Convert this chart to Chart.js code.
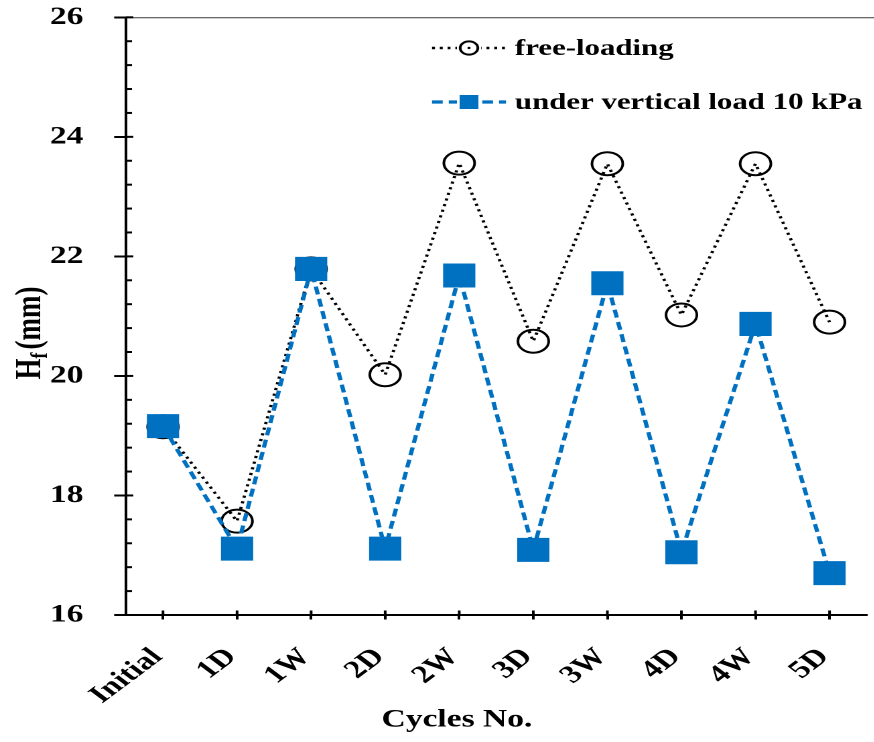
<!DOCTYPE html>
<html>
<head>
<meta charset="utf-8">
<script src="https://cdn.jsdelivr.net/npm/chart.js@4/dist/chart.umd.min.js"></script>
<style>
  html, body { margin: 0; padding: 0; background: #fff; overflow: hidden; width: 874px; height: 742px; }
  #wrap { position: absolute; left: 0; top: 0; transform: scaleX(1.34); transform-origin: 0 0; }
  canvas { display: block; }
</style>
</head>
<body>
<div id="wrap"><canvas id="c" width="664" height="742"></canvas></div>
<script>
// ---- data ----
const categories = ['Initial', '1D', '1W', '2D', '2W', '3D', '3W', '4D', '4W', '5D'];
const freeLoading = [19.15, 17.57, 21.79, 20.02, 23.56, 20.58, 23.55, 21.02, 23.55, 20.90];
const underLoad10kPa = [19.16, 17.11, 21.79, 17.11, 21.68, 17.09, 21.55, 17.05, 20.87, 16.70];
const yTickValues = [16, 18, 20, 22, 24, 26];
const seriesNames = ['free-loading', 'under vertical load 10 kPa'];
const xTitle = 'Cycles No.';
const yTitleMain = 'H';
const yTitleSub = 'f';
const yTitleUnit = '(mm)';

const BLUE = '#0070C0';
const SERIF = '"Liberation Serif", "Times New Roman", serif';

// Custom decorations: inside ticks, minor ticks, top border, titles, legend
const decor = {
  id: 'decor',
  afterDraw(chart) {
    const ctx = chart.ctx;
    const ca = chart.chartArea;
    const xs = chart.scales.x, ys = chart.scales.y;
    ctx.save();
    // top border
    ctx.strokeStyle = '#3a3a3a';
    ctx.lineWidth = 1;
    ctx.beginPath();
    ctx.moveTo(ca.left, ca.top + 0.5);
    ctx.lineTo(ca.right + 20, ca.top + 0.5);
    ctx.stroke();
    // y inside ticks (major + minor)
    ctx.strokeStyle = '#000';
    ctx.lineWidth = 2;
    for (let v = ys.min; v <= ys.max + 1e-9; v += 0.4) {
      const py = ys.getPixelForValue(v);
      const isMajor = Math.abs(v / 2 - Math.round(v / 2)) < 1e-6;
      const len = isMajor ? 5.5 : 4.5;
      ctx.beginPath();
      ctx.moveTo(ca.left, py);
      ctx.lineTo(ca.left + len, py);
      ctx.stroke();
    }
    // x inside ticks
    for (let i = 0; i < categories.length; i++) {
      const px = xs.getPixelForTick(i);
      ctx.beginPath();
      ctx.moveTo(px, ca.bottom);
      ctx.lineTo(px, ca.bottom - 4.5);
      ctx.stroke();
    }
    // x title
    ctx.fillStyle = '#000';
    ctx.font = 'bold 25px ' + SERIF;
    ctx.textAlign = 'center';
    ctx.textBaseline = 'middle';
    ctx.fillText(xTitle, 341, 720);
    // y title (rotated, with subscript)
    ctx.save();
    ctx.translate(21, 333);
    ctx.rotate(-Math.PI / 2);
    const fMain = 'bold 27px ' + SERIF;
    const fSub = 'bold 18px ' + SERIF;
    ctx.font = fMain;
    const wH = ctx.measureText(yTitleMain).width;
    const wU = ctx.measureText(yTitleUnit).width;
    ctx.font = fSub;
    const wS = ctx.measureText(yTitleSub).width;
    const total = wH + wS + 3 + wU;
    let x0 = -total / 2;
    ctx.textAlign = 'left';
    ctx.textBaseline = 'alphabetic';
    ctx.font = fMain;
    ctx.fillText(yTitleMain, x0, 9);
    ctx.font = fSub;
    ctx.fillText(yTitleSub, x0 + wH, 14);
    ctx.font = fMain;
    ctx.fillText(yTitleUnit, x0 + wH + wS + 3, 9);
    ctx.restore();
    // legend
    const rows = [
      { ds: chart.data.datasets[1], y: 48, legendRadius: 6.6 },
      { ds: chart.data.datasets[0], y: 102, legendRadius: 9.9 }
    ];
    rows.forEach(r => {
      const ds = r.ds;
      ctx.save();
      ctx.strokeStyle = ds.borderColor;
      ctx.lineWidth = ds.borderWidth;
      ctx.setLineDash(ds.borderDash || []);
      ctx.beginPath();
      ctx.moveTo(322.4, r.y);
      ctx.lineTo(377.6, r.y);
      ctx.stroke();
      ctx.setLineDash([]);
      ctx.fillStyle = '#fff';
      ctx.fillRect(341, r.y - 9, 18, 18);
      ctx.strokeStyle = ds.pointBorderColor;
      ctx.lineWidth = ds.pointBorderWidth;
      if (ds.pointStyle === 'circle') {
        ctx.beginPath();
        ctx.arc(350, r.y, r.legendRadius, 0, Math.PI * 2);
        ctx.stroke();
        ctx.fillStyle = '#000';
        ctx.beginPath();
        ctx.arc(350, r.y, 1.2, 0, Math.PI * 2);
        ctx.fill();
      } else {
        ctx.fillStyle = ds.pointBackgroundColor;
        ctx.fillRect(350 - 7, r.y - 7, 14, 14);
      }
      ctx.restore();
      ctx.fillStyle = '#000';
      ctx.font = 'bold 23px ' + SERIF;
      ctx.textAlign = 'left';
      ctx.textBaseline = 'middle';
      ctx.fillText(ds.label, 384.3, r.y + 1);
    });
    ctx.restore();
  }
};

new Chart(document.getElementById('c'), {
  type: 'line',
  data: {
    labels: categories,
    datasets: [
      {
        label: seriesNames[1],
        data: underLoad10kPa,
        borderColor: BLUE,
        borderWidth: 3.2,
        borderDash: [8, 4.5],
        pointStyle: 'rect',
        pointRadius: 16.3,
        pointHoverRadius: 16.3,
        pointBackgroundColor: BLUE,
        pointBorderColor: BLUE,
        pointBorderWidth: 1,
        tension: 0,
        order: 0
      },
      {
        label: seriesNames[0],
        data: freeLoading,
        borderColor: '#000',
        borderWidth: 2.4,
        borderDash: [2.2, 3.6],
        pointStyle: 'circle',
        pointRadius: 11.5,
        pointHoverRadius: 11.5,
        pointBackgroundColor: 'rgba(0,0,0,0)',
        pointBorderColor: '#000',
        pointBorderWidth: 2,
        tension: 0,
        order: 1
      }
    ]
  },
  options: {
    responsive: false,
    animation: false,
    devicePixelRatio: 2,
    layout: { padding: { top: 16, right: 3.6, left: 0, bottom: 0 } },
    plugins: { legend: { display: false }, tooltip: { enabled: false } },
    scales: {
      x: {
        type: 'category',
        offset: true,
        grid: { display: true, drawOnChartArea: false, drawTicks: true, tickLength: 4.5, color: '#000', lineWidth: 2 },
        border: { display: true, color: '#000', width: 2 },
        ticks: {
          color: '#000',
          font: { family: SERIF, size: 25, weight: 'bold' },
          minRotation: 45,
          maxRotation: 45,
          padding: 23,
          labelOffset: -4,
          autoSkip: false
        },
        afterFit(scale) {
          scale.height = 742 - 615;
          scale.paddingLeft = 0; scale.paddingRight = 0; scale.paddingTop = 0; scale.paddingBottom = 0;
        }
      },
      y: {
        min: 16,
        max: 26,
        afterBuildTicks(scale) { scale.ticks = yTickValues.map(v => ({ value: v })); },
        grid: { display: true, drawOnChartArea: false, drawTicks: true, tickLength: 8.8, color: '#000', lineWidth: 2 },
        border: { display: true, color: '#000', width: 2 },
        ticks: {
          color: '#000',
          font: { family: SERIF, size: 25, weight: 'bold' },
          padding: 23
        },
        afterFit(scale) {
          scale.width = 94;
          scale.paddingLeft = 0; scale.paddingRight = 0; scale.paddingTop = 0; scale.paddingBottom = 0;
        }
      }
    }
  },
  plugins: [decor]
});
</script>
</body>
</html>
